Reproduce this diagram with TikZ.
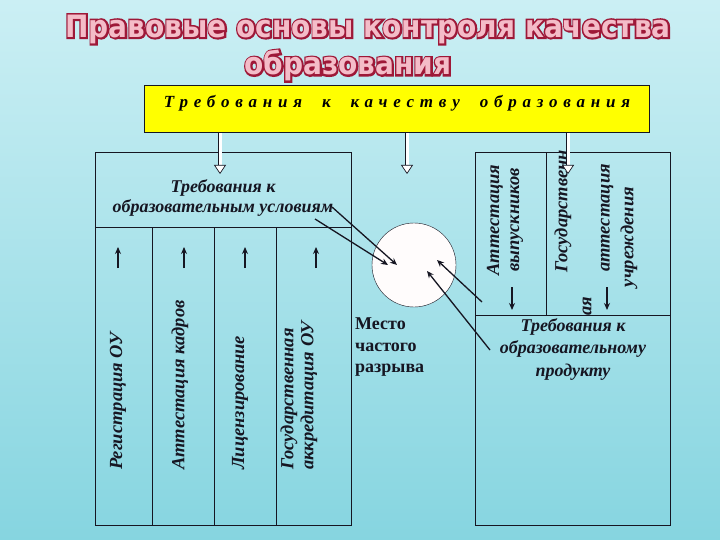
\documentclass[tikz,border=0pt]{standalone}
\usepackage{fontspec}
\setmainfont{Liberation Serif}
\newfontfamily\titlefont{DejaVu Sans}
\newfontfamily\titlerim{DejaVu Sans}[FakeBold = 12]
\usetikzlibrary{arrows.meta,positioning}

\definecolor{bgtop}{HTML}{CBEFF4}
\definecolor{bgbot}{HTML}{86D5E0}
\definecolor{titlefill}{HTML}{F4BCC8}
\definecolor{titleline}{HTML}{9E1838}
\definecolor{boxline}{HTML}{161622}
\definecolor{reqfill}{HTML}{FFFF00}

\begin{document}
\begin{tikzpicture}[
    x = 1pt, y = -1pt, % one unit = one pixel of the slide
    > = {Stealth[length=7pt, width=6pt]},
    cell/.style = {draw = boxline, line width = 0.8pt, inner sep = 0pt, anchor = north west},
    heading/.style = {font = \bfseries\itshape\fontsize{18}{20}\selectfont, align = center, text = boxline},
    vlabel/.style = {font = \bfseries\itshape\fontsize{18.5}{20}\selectfont, rotate = 90, text = boxline, inner sep = 0pt},
    hollow/.style = {double = white, double distance = 3pt, line width = 0.7pt, draw = boxline,
                     -{Triangle[open, fill = white, width = 12pt, length = 9pt]}},
    tick/.style = {->, line width = 1.3pt, draw = boxline},
    tocirc/.style = {->, line width = 1.3pt, draw = boxline}
    ]

    % background
    \shade[top color = bgtop, bottom color = bgbot] (0,0) rectangle (720,540);
    \useasboundingbox (0,0) rectangle (720,540);

    % title, a dark rim under a pink face
    \tikzset{ttl/.style = {font = \titlefont\bfseries\fontsize{28}{34}\selectfont, inner sep = 0pt, yscale = 1.1, align = center}}
    \node[ttl, font = \titlerim\bfseries\fontsize{28}{34}\selectfont, text = titleline] (titlerim) at (368,48)
        {Правовые основы контроля качества\\\hspace*{-40pt}образования};
    \node[ttl, text = titlefill] (title) at (368,48)
        {Правовые основы контроля качества\\\hspace*{-40pt}образования};

    % requirements box
    \node[draw = boxline, line width = 1pt, fill = reqfill, minimum width = 505pt, minimum height = 47pt,
          text depth = 15pt, font = \bfseries\itshape\fontsize{17}{18}\selectfont\addfontfeatures{LetterSpace = 34}]
          (req) at (397,109) {Требования\hspace{10pt} к\hspace{10pt} качеству\hspace{10pt} образования};

    % left block: conditions
    \node[cell, minimum width = 256pt, minimum height = 75pt] (cond) at (95,152) {};
    \node[heading] (condtext) at (223,198) {Требования к\\образовательным условиям};
    \node[cell, minimum width = 57pt, minimum height = 298pt] (reg) at (95,227) {};
    \node[cell, minimum width = 62pt, minimum height = 298pt] (staff) at (152,227) {};
    \node[cell, minimum width = 62pt, minimum height = 298pt] (lic) at (214,227) {};
    \node[cell, minimum width = 75pt, minimum height = 298pt] (accr) at (276,227) {};

    \node[vlabel, anchor = west] (regtext) at (118,470) {Регистрация ОУ};
    \node[vlabel, anchor = west] (stafftext) at (180,470) {Аттестация кадров};
    \node[vlabel, anchor = west] (lictext) at (240,470) {Лицензирование};
    \node[vlabel, anchor = west, align = left] (accrtext) at (299,470) {Государственная\\аккредитация ОУ};

    \foreach \c/\x in {reg/118, staff/184, lic/245, accr/316} {
        \coordinate (\c lo) at (\x,268);
        \coordinate (\c hi) at (\x,247);
        \draw[tick] (\c lo) -- (\c hi);
    }

    % right block: product
    \node[cell, minimum width = 71pt, minimum height = 163pt] (grad) at (475,152) {};
    \node[cell, minimum width = 124pt, minimum height = 163pt] (state) at (546,152) {};
    \node[cell, minimum width = 195pt, minimum height = 210pt] (prod) at (475,315) {};
    \node[heading, font = \bfseries\itshape\fontsize{18}{22.5}\selectfont] (prodtext) at (573,349) {Требования к\\образовательному\\продукту};

    \node[vlabel, align = center] (gradtext) at (505,220) {Аттестация\\выпускников};
    \node[vlabel, anchor = west] (statetext) at (563,273) {Государственн};
    \node[vlabel, anchor = west] (statetext2) at (587,316) {ая};
    \node[vlabel] (statetext3) at (607,218) {аттестация};
    \node[vlabel] (statetext4) at (629,237) {учреждения};

    \foreach \c/\x in {grad/512, state/607} {
        \coordinate (\c hi) at (\x,287);
        \coordinate (\c lo) at (\x,310);
        \draw[tick] (\c hi) -- (\c lo);
    }

    % hollow arrows from the requirements
    \coordinate (h1) at (220,174);
    \coordinate (h2) at (407,174);
    \coordinate (h3) at (568,174);
    \foreach \h in {h1,h2,h3}
        \draw[hollow] (req.south -| \h) -- (\h);

    % gap circle
    \node[circle, draw = boxline, fill = white!96!pink, minimum size = 84pt, inner sep = 0pt] (gap) at (414,265) {};
    \node[font = \bfseries\fontsize{18}{21.5}\selectfont, align = left, text = boxline, anchor = north west, inner sep = 0pt]
          (gaptext) at (355,318) {Место\\частого\\разрыва};

    \coordinate (g1) at (397,265);
    \coordinate (g2) at (388,265);
    \coordinate (g3) at (437,260);
    \coordinate (g4) at (427,271);
    \coordinate (s1) at (332,207);
    \coordinate (s2) at (315,219);
    \coordinate (s3) at (482,302);
    \coordinate (s4) at (490,350);
    \foreach \i in {1,...,4}
        \draw[tocirc] (s\i) -- (g\i);
\end{tikzpicture}
\end{document}
